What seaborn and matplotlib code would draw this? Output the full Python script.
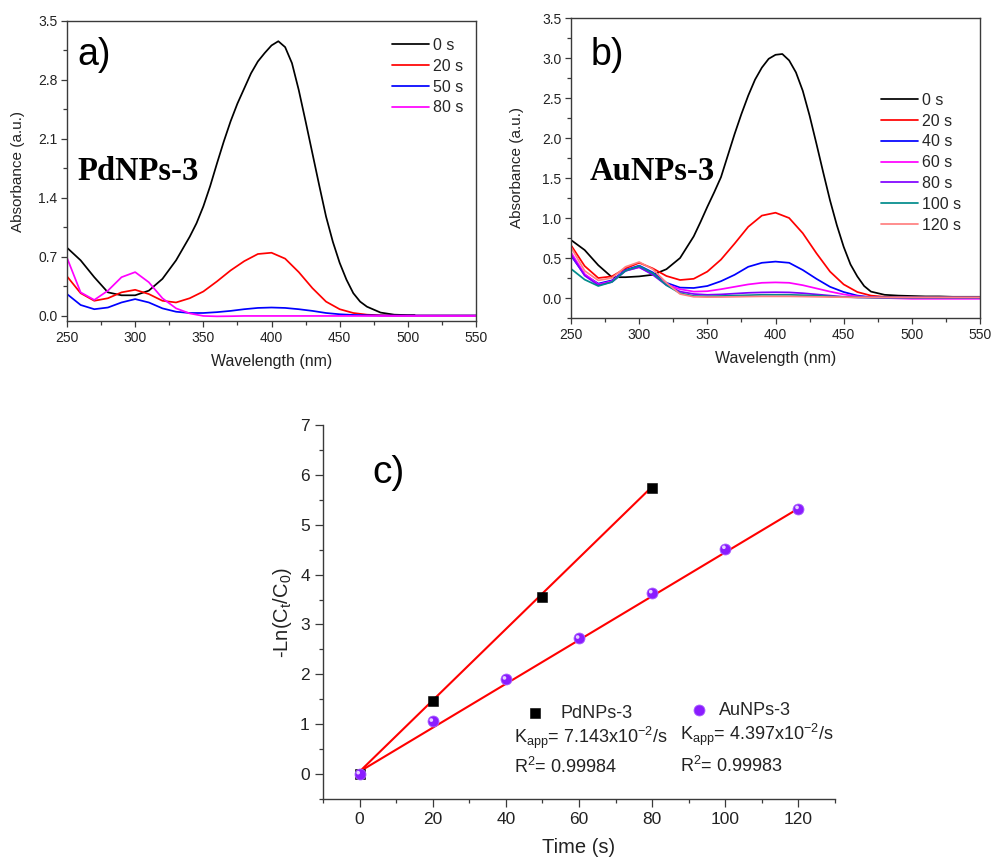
import numpy as np
import pandas as pd
import matplotlib
matplotlib.use("Agg")
import matplotlib.pyplot as plt
import matplotlib.transforms as mtransforms
from matplotlib.ticker import MultipleLocator, FormatStrFormatter
import seaborn as sns

# ---------------------------------------------------------------- data
# UV-vis spectra, wavelength grid (nm)
WL = list(range(250, 551, 10))

# a) PdNPs-3
WL_PD_0S = [250, 260, 270, 280, 290, 300, 310, 320, 330, 340, 345, 350, 355,
            360, 365, 370, 375, 380, 385, 390, 395, 400, 405, 410, 415, 420,
            425, 430, 435, 440, 445, 450, 455, 460, 465, 470, 480, 490, 500,
            505]
PD_0S = [0.81, 0.66, 0.46, 0.28, 0.245, 0.245, 0.30, 0.44, 0.66, 0.94, 1.10,
         1.30, 1.54, 1.81, 2.07, 2.31, 2.52, 2.70, 2.88, 3.02, 3.12, 3.21,
         3.26, 3.19, 3.00, 2.68, 2.31, 1.93, 1.55, 1.18, 0.88, 0.63, 0.43,
         0.27, 0.17, 0.11, 0.04, 0.015, 0.01, 0.01]
PD_20S = [0.47, 0.27, 0.18, 0.21, 0.28, 0.31, 0.26, 0.18, 0.16, 0.21, 0.29,
          0.41, 0.54, 0.65, 0.735, 0.75, 0.68, 0.52, 0.33, 0.17, 0.08, 0.035,
          0.015, 0.008, 0.005, 0.005, 0.005, 0.005, 0.005, 0.005, 0.005]
PD_50S = [0.26, 0.13, 0.08, 0.10, 0.16, 0.20, 0.16, 0.09, 0.05, 0.035, 0.035,
          0.045, 0.06, 0.08, 0.095, 0.10, 0.095, 0.08, 0.06, 0.035, 0.02,
          0.012, 0.008, 0.005, 0.005, 0.005, 0.005, 0.005, 0.005, 0.005, 0.005]
PD_80S = [0.69, 0.28, 0.19, 0.30, 0.46, 0.52, 0.40, 0.21, 0.09, 0.03, 0.0,
          -0.005, -0.003, 0.0, 0.0, 0.0, 0.0, 0.0, 0.0, 0.0, 0.0, 0.0, 0.0,
          0.0, 0.0, 0.0, 0.0, 0.0, 0.0, 0.0, 0.0]
PD_LABELS = ["0 s", "20 s", "50 s", "80 s"]

# b) AuNPs-3
WL_AU_0S = [250, 260, 270, 280, 290, 300, 310, 320, 330, 340, 345, 350, 355,
            360, 365, 370, 375, 380, 385, 390, 395, 400, 405, 410, 415, 420,
            425, 430, 435, 440, 445, 450, 455, 460, 465, 470, 480, 490, 500,
            510, 520, 530, 540, 550]
AU_0S = [0.725, 0.60, 0.41, 0.26, 0.26, 0.27, 0.29, 0.36, 0.50, 0.77, 0.95,
         1.14, 1.32, 1.51, 1.78, 2.05, 2.30, 2.53, 2.73, 2.88, 2.99, 3.04,
         3.05, 2.97, 2.82, 2.59, 2.28, 1.93, 1.57, 1.22, 0.91, 0.64, 0.42,
         0.27, 0.15, 0.08, 0.04, 0.03, 0.025, 0.02, 0.02, 0.015, 0.015, 0.015]
AU_20S = [0.66, 0.40, 0.25, 0.27, 0.37, 0.44, 0.37, 0.275, 0.225, 0.24, 0.33,
          0.48, 0.68, 0.89, 1.03, 1.066, 1.00, 0.81, 0.56, 0.33, 0.17, 0.075,
          0.03, 0.015, 0.01, 0.005, 0.005, 0.005, 0.005, 0.005, 0.005]
AU_40S = [0.53, 0.29, 0.18, 0.22, 0.35, 0.405, 0.32, 0.19, 0.13, 0.125, 0.15,
          0.21, 0.29, 0.39, 0.44, 0.455, 0.44, 0.35, 0.24, 0.14, 0.075, 0.03,
          0.01, 0.005, 0.005, 0.005, 0.005, 0.005, 0.005, 0.005, 0.005]
AU_60S = [0.57, 0.30, 0.17, 0.21, 0.34, 0.385, 0.30, 0.17, 0.11, 0.08, 0.085,
          0.11, 0.14, 0.17, 0.19, 0.195, 0.19, 0.16, 0.12, 0.08, 0.045, 0.02,
          0.01, 0.0, -0.005, -0.01, -0.01, -0.01, -0.01, -0.01, -0.01]
AU_80S = [0.54, 0.28, 0.16, 0.20, 0.34, 0.385, 0.29, 0.16, 0.08, 0.05, 0.04,
          0.045, 0.055, 0.065, 0.07, 0.072, 0.07, 0.06, 0.045, 0.03, 0.015,
          0.008, 0.005, 0.005, 0.005, 0.005, 0.005, 0.005, 0.005, 0.005, 0.005]
AU_100S = [0.365, 0.23, 0.15, 0.20, 0.34, 0.40, 0.31, 0.16, 0.06, 0.025, 0.02,
           0.025, 0.03, 0.035, 0.04, 0.04, 0.04, 0.035, 0.03, 0.02, 0.012,
           0.008, 0.005, 0.005, 0.005, 0.005, 0.005, 0.005, 0.005, 0.005, 0.005]
AU_120S = [0.635, 0.34, 0.22, 0.25, 0.39, 0.45, 0.36, 0.19, 0.05, 0.015, 0.012,
           0.012, 0.015, 0.018, 0.02, 0.02, 0.02, 0.018, 0.015, 0.012, 0.01,
           0.008, 0.008, 0.008, 0.008, 0.008, 0.008, 0.008, 0.008, 0.008, 0.008]
AU_LABELS = ["0 s", "20 s", "40 s", "60 s", "80 s", "100 s", "120 s"]

# c) pseudo-first-order kinetics
T_PD = [0, 20, 50, 80]
LN_PD = [0.0, 1.47, 3.56, 5.73]
T_AU = [0, 20, 40, 60, 80, 100, 120]
LN_AU = [0.0, 1.055, 1.90, 2.72, 3.63, 4.52, 5.32]
K_PD, B_PD, R2_PD = 0.07143, 0.05, 0.99984
K_AU, B_AU, R2_AU = 0.04397, 0.05, 0.99983

# ---------------------------------------------------------------- style
sns.set_theme(style="ticks")
plt.rcParams["font.family"] = ["Liberation Sans", "DejaVu Sans"]
plt.rcParams["mathtext.fontset"] = "custom"
plt.rcParams["mathtext.rm"] = "Liberation Sans"
plt.rcParams["mathtext.it"] = "Liberation Sans:italic"
plt.rcParams["mathtext.bf"] = "Liberation Sans:bold"

SPINE = "#3a3a3a"
TXT = "#222222"
W, H = 994, 861

fig = plt.figure(figsize=(W / 100, H / 100), dpi=100)


def px_axes(left, top, right, bottom):
    return fig.add_axes([left / W, 1 - bottom / H, (right - left) / W,
                         (bottom - top) / H])


def style_axes(ax, tick_size, box=True, pad=2.5):
    for side in ["left", "bottom", "top", "right"]:
        ax.spines[side].set_color(SPINE)
        ax.spines[side].set_linewidth(1.0)
        ax.spines[side].set_visible(box or side in ("left", "bottom"))
    ax.tick_params(which="both", direction="out", color=SPINE, width=0.9,
                   top=False, right=False, labelcolor=TXT,
                   labelsize=tick_size, pad=pad)
    ax.tick_params(which="major", length=4.5)
    ax.tick_params(which="minor", length=2.6)
    ax.grid(False)


def spectra_panel(ax, series, ylim, ystep, yfmt, leg_xy, ylabelpad):
    for wl, vals, color, label in series:
        sns.lineplot(x=wl, y=vals, ax=ax, color=color, linewidth=1.25,
                     label=label, sort=False, estimator=None)
    ax.set_xlim(250, 550)
    ax.set_ylim(*ylim)
    ax.xaxis.set_major_locator(MultipleLocator(50))
    ax.xaxis.set_minor_locator(MultipleLocator(25))
    ax.yaxis.set_major_locator(MultipleLocator(ystep))
    ax.yaxis.set_minor_locator(MultipleLocator(ystep / 2))
    ax.yaxis.set_major_formatter(FormatStrFormatter(yfmt))
    style_axes(ax, 10)
    ax.set_xlabel("Wavelength (nm)", fontsize=11.5, color=TXT, labelpad=7)
    ax.set_ylabel("Absorbance (a.u.)", fontsize=11, color=TXT,
                  labelpad=ylabelpad)
    ax.legend(loc="upper left", bbox_to_anchor=(leg_xy[0] / W, 1 - leg_xy[1] / H),
              bbox_transform=fig.transFigure, frameon=False, fontsize=11.5,
              handlelength=2.3, handletextpad=0.25, labelspacing=0.36,
              borderpad=0, borderaxespad=0)


# ---------------------------------------------------------------- a)
ax_a = px_axes(67, 21, 476, 321)
pd_series = [
    (WL_PD_0S, PD_0S, "#000000", PD_LABELS[0]),
    (WL, PD_20S, "#ff0000", PD_LABELS[1]),
    (WL, PD_50S, "#0000ff", PD_LABELS[2]),
    (WL, PD_80S, "#ff00ff", PD_LABELS[3]),
]
spectra_panel(ax_a, pd_series, (-0.06, 3.5), 0.7, "%.1f", (392, 38), 9)

# ---------------------------------------------------------------- b)
ax_b = px_axes(571, 18, 980, 318)
au_colors = ["#000000", "#ff0000", "#0000ff", "#ff00ff", "#8000ff", "#008b8b",
             "#ff8080"]
au_values = [AU_0S, AU_20S, AU_40S, AU_60S, AU_80S, AU_100S, AU_120S]
au_wls = [WL_AU_0S] + [WL] * 6
au_series = [(w, v, c, l) for w, v, c, l in
             zip(au_wls, au_values, au_colors, AU_LABELS)]
spectra_panel(ax_b, au_series, (-0.25, 3.5), 0.5, "%.1f", (881, 93), 13)

# panel letters and sample names
fig.text(77 / W, 1 - 65 / H, "a)", fontsize=27, color="black", va="baseline")
fig.text(591 / W, 1 - 65 / H, "b)", fontsize=27, color="black", va="baseline")
fig.text(77 / W, 1 - 180 / H, "PdNPs-3", fontsize=23.5, fontweight="bold",
         family="Liberation Serif", color="black", va="baseline")
fig.text(590 / W, 1 - 180 / H, "AuNPs-3", fontsize=23.5, fontweight="bold",
         family="Liberation Serif", color="black", va="baseline")

# ---------------------------------------------------------------- c)
ax_c = px_axes(323, 425, 835, 799)

t_pd = np.array(T_PD, dtype=float)
t_au = np.array(T_AU, dtype=float)
fit_pd = np.array([t_pd[0], t_pd[-1]])
fit_au = np.array([t_au[0], t_au[-1]])
sns.lineplot(x=fit_pd, y=K_PD * fit_pd + B_PD, ax=ax_c, color="#ff0000",
             linewidth=1.5, zorder=2)
sns.lineplot(x=fit_au, y=K_AU * fit_au + B_AU, ax=ax_c, color="#ff0000",
             linewidth=1.5, zorder=2)

sns.scatterplot(x=T_PD, y=LN_PD, ax=ax_c, marker="s", s=60, color="black",
                edgecolor="black", linewidth=0.4, label="PdNPs-3", zorder=3)
sns.scatterplot(x=T_AU, y=LN_AU, ax=ax_c, marker="o", s=62, color="#8a1cff",
                edgecolor="#a860ff", linewidth=0.6, label="AuNPs-3", zorder=3)
# specular highlight on the spheres
hl = mtransforms.offset_copy(ax_c.transData, fig=fig, x=-1.4, y=1.4,
                             units="dots")
ax_c.scatter(T_AU, LN_AU, s=7, color="#e6d2ff", edgecolor="none",
             transform=hl, zorder=4)

ax_c.set_xlim(-10, 130)
ax_c.set_ylim(-0.5, 7)
ax_c.xaxis.set_major_locator(MultipleLocator(20))
ax_c.xaxis.set_minor_locator(MultipleLocator(10))
ax_c.yaxis.set_major_locator(MultipleLocator(1))
ax_c.yaxis.set_minor_locator(MultipleLocator(0.5))
style_axes(ax_c, 12.5, box=False, pad=4)
ax_c.tick_params(which="major", length=5.5)
ax_c.tick_params(which="minor", length=3.2)
ax_c.set_xlabel("Time (s)", fontsize=14.5, color=TXT, labelpad=8)
ax_c.set_ylabel(r"-Ln(C$_{\mathrm{t}}$/C$_{\mathrm{0}}$)", fontsize=14.5,
                color=TXT, labelpad=4)

handles, labels = ax_c.get_legend_handles_labels()
leg_pd = ax_c.legend([handles[labels.index("PdNPs-3")]], ["PdNPs-3"],
                     loc="center left",
                     bbox_to_anchor=((534.6 - 9) / W, 1 - 713 / H),
                     bbox_transform=fig.transFigure, frameon=False,
                     fontsize=13, handlelength=1.0, handletextpad=0.95,
                     borderpad=0, borderaxespad=0)
ax_c.add_artist(leg_pd)
ax_c.legend([handles[labels.index("AuNPs-3")]], ["AuNPs-3"],
            loc="center left", bbox_to_anchor=((699 - 9) / W, 1 - 710.5 / H),
            bbox_transform=fig.transFigure, frameon=False, fontsize=13,
            handlelength=1.0, handletextpad=0.63, borderpad=0,
            borderaxespad=0)

for t0, k, r2, kb, rb in [(42.2, K_PD, R2_PD, 0.63, 0.02),
                          (87.5, K_AU, R2_AU, 0.69, 0.05)]:
    mant = k * 100
    ax_c.text(t0, kb, r"K$_{\mathrm{app}}$= " + f"{mant:.3f}" +
              r"x10$^{\mathrm{-2}}$/s", fontsize=13, color=TXT, va="baseline")
    ax_c.text(t0, rb, r"R$^{\mathrm{2}}$= " + f"{r2:.5f}", fontsize=13,
              color=TXT, va="baseline")

fig.text(372 / W, 1 - 483 / H, "c)", fontsize=28, color="black",
         va="baseline")

fig.savefig("out.png", dpi=100)
